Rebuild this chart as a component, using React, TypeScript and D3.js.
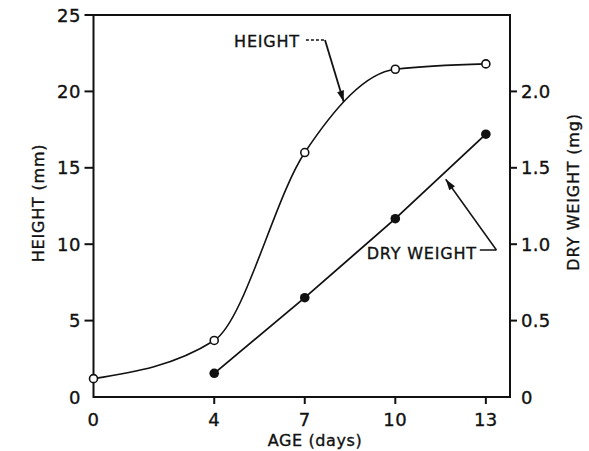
import React from "react";
import * as d3 from "d3";

const heightDays = [0, 4, 7, 10, 13];
const heightMm = [1.2, 3.7, 16.0, 21.45, 21.8];
const weightDays = [4, 7, 10, 13];
const weightMg = [0.155, 0.65, 1.167, 1.72];
const xTicks = [0, 4, 7, 10, 13];
const leftTicks = [0, 5, 10, 15, 20, 25];
const rightTicks = [0, 0.5, 1.0, 1.5, 2.0];
const rightTickLabels = ["0", "0.5", "1.0", "1.5", "2.0"];

// annotation anchors in data units
const heightNote = { text: "HEIGHT", day: 6.84, val: 22.9, elbowDay: 7.67, elbowVal: 23.36, tipDay: 8.29, tipVal: 19.33 };
const weightNote = { text: "DRY WEIGHT", day: 12.7, val: 0.9, elbowDay: 13.35, elbowVal: 0.962, tipDay: 11.67, tipVal: 1.425 };

const FONT = "DejaVu Sans";

export default function App() {
  const W = 589, H = 451;
  const x = d3.scaleLinear().domain([0, 13.8]).range([93.5, 510]);
  const yH = d3.scaleLinear().domain([0, 25]).range([397, 15]);
  const yW = d3.scaleLinear().domain([0, 2.5]).range([397, 15]);

  const hPts: [number, number][] = heightDays.map((d, i) => [x(d), yH(heightMm[i])]);
  const wPts: [number, number][] = weightDays.map((d, i) => [x(d), yW(weightMg[i])]);
  const curve = d3.line().curve(d3.curveMonotoneX)(hPts) || "";
  const wline = d3.line()(wPts) || "";

  const x0 = x(0), x1 = x(13.8), yb = yH(0), yt = yH(25);

  const arrowHead = (fx: number, fy: number, tx: number, ty: number) => {
    const ang = Math.atan2(ty - fy, tx - fx);
    const L = 11, Wd = 3.5;
    const bx = tx - L * Math.cos(ang), by = ty - L * Math.sin(ang);
    const px = -Math.sin(ang) * Wd, py = Math.cos(ang) * Wd;
    return `M${tx},${ty}L${bx + px},${by + py}L${bx - px},${by - py}Z`;
  };

  const hx = x(heightNote.day), hy = yH(heightNote.val);
  const hex = x(heightNote.elbowDay), hey = yH(heightNote.elbowVal);
  const htx = x(heightNote.tipDay), hty = yH(heightNote.tipVal);
  const wx = x(weightNote.day), wy = yW(weightNote.val);
  const wex = x(weightNote.elbowDay), wey = yW(weightNote.elbowVal);
  const wtx = x(weightNote.tipDay), wty = yW(weightNote.tipVal);

  const txt = { stroke: "#111", strokeWidth: 0.35 };

  return (
    <svg width={W} height={H} style={{ position: "absolute", left: 0, top: 0, background: "#fff" }}
      fontFamily={FONT} fill="#111">
      <rect x={0} y={0} width={W} height={H} fill="#fff" />
      {/* frame */}
      <path d={`M${x0},${yt}L${x1},${yt}L${x1},${yb}L${x0},${yb}Z`} fill="none" stroke="#111" strokeWidth={2} />
      {/* left ticks */}
      {leftTicks.filter(t => t > 0).map(t => (
        <line key={"lt" + t} x1={x0 - 9} x2={x0} y1={yH(t)} y2={yH(t)} stroke="#111" strokeWidth={2} />
      ))}
      {leftTicks.map(t => (
        <text key={"ll" + t} x={81} y={yH(t) + 6.5} textAnchor="end" fontSize={18} letterSpacing={0.5} {...txt}>{t}</text>
      ))}
      {/* right ticks */}
      {rightTicks.filter(t => t > 0).map(t => (
        <line key={"rt" + t} x1={x1} x2={x1 + 7} y1={yW(t)} y2={yW(t)} stroke="#111" strokeWidth={2} />
      ))}
      {rightTicks.map((t, i) => (
        <text key={"rl" + t} x={521} y={yW(t) + 6.5} textAnchor="start" fontSize={18} letterSpacing={0.3} {...txt}>{rightTickLabels[i]}</text>
      ))}
      {/* bottom ticks */}
      {xTicks.filter(t => t > 0).map(t => (
        <line key={"bt" + t} x1={x(t)} x2={x(t)} y1={yb} y2={yb + 7} stroke="#111" strokeWidth={2} />
      ))}
      {xTicks.map(t => (
        <text key={"bl" + t} x={x(t)} y={426} textAnchor="middle" fontSize={18} letterSpacing={0.5} {...txt}>{t}</text>
      ))}
      {/* axis titles */}
      <text x={315} y={446} textAnchor="middle" fontSize={16} letterSpacing={0.6} {...txt}>AGE (days)</text>
      <text transform={`translate(44,203) rotate(-90)`} textAnchor="middle" fontSize={16} letterSpacing={0.8} {...txt}>HEIGHT (mm)</text>
      <text transform={`translate(579,192) rotate(-90)`} textAnchor="middle" fontSize={16} letterSpacing={0.8} {...txt}>DRY WEIGHT (mg)</text>

      {/* series */}
      <path d={curve} fill="none" stroke="#111" strokeWidth={1.6} />
      <path d={wline} fill="none" stroke="#111" strokeWidth={1.8} />
      {hPts.map((p, i) => (
        <circle key={"hp" + i} cx={p[0]} cy={p[1]} r={4} fill="#fff" stroke="#111" strokeWidth={1.6} />
      ))}
      {wPts.map((p, i) => (
        <circle key={"wp" + i} cx={p[0]} cy={p[1]} r={4.8} fill="#111" />
      ))}

      {/* annotations */}
      <text x={hx} y={hy} textAnchor="end" fontSize={16} letterSpacing={0.8} {...txt}>{heightNote.text}</text>
      <line x1={hx + 6} y1={hey} x2={hex} y2={hey} stroke="#111" strokeWidth={1.5} strokeDasharray="3,2" />
      <line x1={hex} y1={hey} x2={htx} y2={hty} stroke="#111" strokeWidth={1.8} />
      <path d={arrowHead(hex, hey, htx, hty)} fill="#111" />

      <text x={wx} y={wy} textAnchor="end" fontSize={16} letterSpacing={0.8} {...txt}>{weightNote.text}</text>
      <line x1={wx + 3} y1={wey} x2={wex} y2={wey} stroke="#111" strokeWidth={1.5} />
      <line x1={wex} y1={wey} x2={wtx} y2={wty} stroke="#111" strokeWidth={1.5} />
      <path d={arrowHead(wex, wey, wtx, wty)} fill="#111" />
    </svg>
  );
}
